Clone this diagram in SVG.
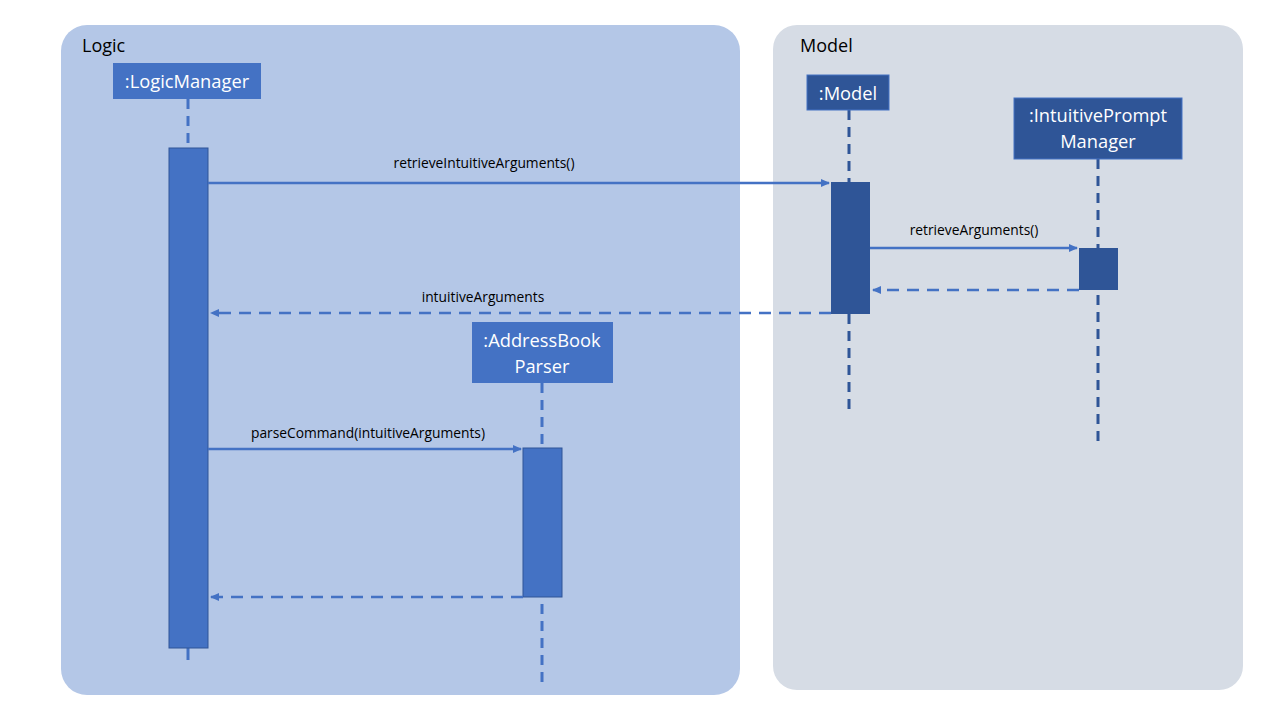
<svg xmlns="http://www.w3.org/2000/svg" width="1280" height="720" viewBox="0 0 1280 720">
<style>
.node text{font-family:"Open Sans","Liberation Sans",sans-serif;font-size:18.3px;fill:#ffffff;text-anchor:middle}
.lbl{font-family:"Open Sans","Liberation Sans",sans-serif;font-size:13.8px;fill:#000;text-anchor:middle}
.title{font-family:"Open Sans","Liberation Sans",sans-serif;font-size:18px;fill:#000}
.life{stroke-width:3;stroke-dasharray:10 7;fill:none}
.msg{stroke:#4472c4;stroke-width:2.5;fill:none}
.ret{stroke:#4472c4;stroke-width:2.5;fill:none;stroke-dasharray:12 8}
</style>
<defs>
<marker id="ah" markerWidth="10" markerHeight="10" refX="8" refY="4" orient="auto" markerUnits="userSpaceOnUse">
<path d="M0,0 L9,4 L0,8 z" fill="#4472c4"/>
</marker>
</defs>
<rect width="1280" height="720" fill="#ffffff"/>
<g id="logic-panel">
<rect x="61" y="25" width="679" height="670" rx="26" fill="#b4c7e7"/>
<text class="title" x="82" y="52">Logic</text>
</g>
<g id="model-panel">
<rect x="773" y="25" width="470" height="665" rx="24" fill="#d6dce5"/>
<text class="title" x="800" y="52">Model</text>
</g>
<g id="lifelines">
<line class="life" x1="188" y1="99" x2="188" y2="148" stroke="#4472c4"/>
<line x1="188" y1="648" x2="188" y2="660" stroke="#4472c4" stroke-width="3"/>
<line class="life" x1="849" y1="110" x2="849" y2="410" stroke="#2f5597"/>
<line class="life" x1="1098" y1="159" x2="1098" y2="445" stroke="#2f5597"/>
<line class="life" x1="542" y1="383" x2="542" y2="682" stroke="#4472c4"/>
</g>
<g id="logicmanager" class="node">
<rect x="113" y="63" width="148" height="36" fill="#4472c4"/>
<text x="187" y="88">:LogicManager</text>
<rect x="169" y="148" width="39" height="500" fill="#4472c4" stroke="#2f5597" stroke-width="1"/>
</g>
<g id="model" class="node">
<rect x="807" y="75" width="82" height="35" fill="#2f5597" stroke="#4472c4" stroke-width="1"/>
<text x="848" y="100">:Model</text>
<rect x="831" y="182" width="39" height="132" fill="#2f5597"/>
</g>
<g id="intuitivepromptmanager" class="node">
<rect x="1014" y="98" width="168" height="61" fill="#2f5597" stroke="#4472c4" stroke-width="1"/>
<text x="1098" y="122">:IntuitivePrompt</text>
<text x="1098" y="148">Manager</text>
<rect x="1079" y="248" width="39" height="42" fill="#2f5597"/>
</g>
<g id="addressbookparser" class="node">
<rect x="472" y="322" width="141" height="61" fill="#4472c4"/>
<text x="542" y="347">:AddressBook</text>
<text x="542" y="373">Parser</text>
<rect x="523" y="448" width="39" height="149" fill="#4472c4" stroke="#2f5597" stroke-width="1"/>
</g>
<g id="connectors">
<line class="msg" x1="208" y1="183" x2="829" y2="183" marker-end="url(#ah)"/>
<text class="lbl" x="484" y="168">retrieveIntuitiveArguments()</text>
<line class="msg" x1="870" y1="248" x2="1077" y2="248" marker-end="url(#ah)"/>
<text class="lbl" x="974" y="235">retrieveArguments()</text>
<line class="ret" x1="1079" y1="290" x2="873" y2="290" marker-end="url(#ah)"/>
<line class="ret" x1="831" y1="313" x2="211" y2="313" marker-end="url(#ah)"/>
<text class="lbl" x="483" y="302">intuitiveArguments</text>
<line class="msg" x1="208" y1="449" x2="521" y2="449" marker-end="url(#ah)"/>
<text class="lbl" x="368" y="438">parseCommand(intuitiveArguments)</text>
<line class="ret" x1="523" y1="597" x2="211" y2="597" marker-end="url(#ah)"/>
</g>
</svg>
